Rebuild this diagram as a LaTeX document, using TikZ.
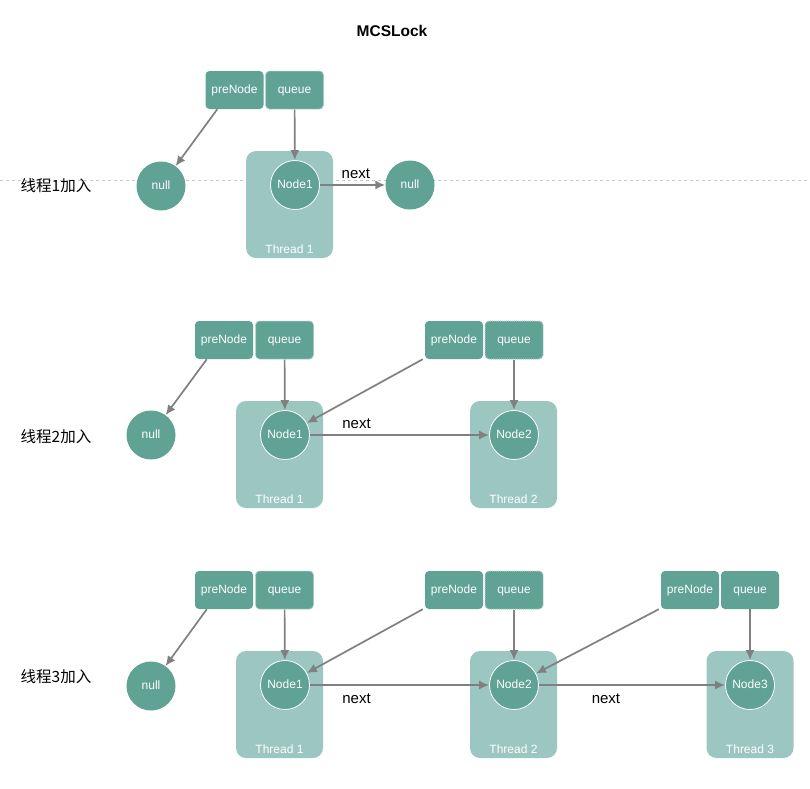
\documentclass[tikz,border=0pt]{standalone}
\usepackage{fontspec}
\setmainfont{Liberation Sans}
\newfontfamily\cjk{Noto Sans CJK SC}
\usetikzlibrary{arrows.meta,positioning,calc}
\definecolor{nodecol}{RGB}{96,162,148}
\definecolor{threadcol}{RGB}{155,199,192}
\definecolor{flowcol}{RGB}{128,128,128}
\definecolor{sepcol}{RGB}{200,200,200}
\tikzset{
  x=1pt, y=-1pt,
  every node/.style={font=\fontsize{12}{14}\selectfont},
  refbox/.style={rounded corners=4pt, fill=nodecol, text=white,
    minimum width=58pt, minimum height=38pt, inner sep=0pt,
    text height=8.6pt, text depth=2.6pt},
  qbox/.style={refbox, draw=white!50!nodecol, densely dotted, line width=1pt},
  qsolid/.style={refbox},
  lnode/.style={circle, fill=nodecol, text=white, minimum size=49pt,
    inner sep=0pt, draw=white, line width=0.8pt,
    text height=8.6pt, text depth=2.6pt},
  nullnode/.style={circle, fill=nodecol, text=white, minimum size=49pt,
    inner sep=0pt, text height=8.6pt, text depth=2.6pt},
  thread/.style={rounded corners=10pt, fill=threadcol,
    minimum width=87pt, minimum height=107pt, inner sep=0pt},
  thlbl/.style={text=white, inner sep=1pt},
  steplbl/.style={font=\fontsize{15.5}{17}\selectfont\cjk, inner sep=0pt},
  nextlbl/.style={font=\fontsize{15}{17}\selectfont, text=black, inner sep=1pt},
  flow/.style={-{Latex[length=10pt,width=9pt]}, flowcol, line width=1.7pt},
}
\begin{document}
\begin{tikzpicture}
\useasboundingbox (0,0) rectangle (810,788);

\node[font=\fontsize{15.5}{17}\selectfont\bfseries] (title) at (392,31) {MCSLock};

% ---------- row 1 ----------
\coordinate (sepL) at (0,180);
\coordinate (sepR) at (810,180);
\draw[sepcol, line width=0.7pt, dash pattern=on 3pt off 3pt] (sepL) -- (sepR);
\node[steplbl] (s1) at (56,186) {线程1加入};
\node[thread] (ta1) at (289.5,204.5) {};
\node[thlbl] (ta1l) at (289.5,249) {Thread 1};
\node[nullnode] (na1) at (161,186) {null};
\node[lnode] (a1) at (295,185) {Node1};
\node[nullnode] (nb1) at (410,185) {null};
\node[refbox] (pa1) at (234.5,90) {preNode};
\node[qbox] (qa1) at (294.5,90) {queue};
\draw[flow] ([xshift=12pt]pa1.south west) -- (na1);
\draw[flow] (qa1) -- (a1);
\draw[flow] (a1) -- node[nextlbl, above=5pt, pos=0.55] {next} (nb1);

% ---------- row 2 ----------
\node[steplbl] (s2) at (56,437) {线程2加入};
\node[thread] (ta2) at (279.5,454.5) {};
\node[thlbl] (ta2l) at (279.5,499) {Thread 1};
\node[thread] (tb2) at (513.5,454.5) {};
\node[thlbl] (tb2l) at (513.5,499) {Thread 2};
\node[nullnode] (na2) at (151,435) {null};
\node[lnode] (a2) at (285,435) {Node1};
\node[lnode] (b2) at (514,435) {Node2};
\node[refbox] (pa2) at (224,340) {preNode};
\node[qbox] (qa2) at (284.5,340) {queue};
\node[refbox] (pb2) at (454,340) {preNode};
\node[qbox] (qb2) at (514,340) {queue};
\draw[flow] ([xshift=12pt]pa2.south west) -- (na2);
\draw[flow] (qa2) -- (a2);
\draw[flow] ([xshift=-2pt]pb2.south west) -- (a2);
\draw[flow] (qb2) -- (b2);
\draw[flow] (a2) -- node[nextlbl, above=5pt, pos=0.26] {next} (b2);

% ---------- row 3 ----------
\node[steplbl] (s3) at (56,677) {线程3加入};
\node[thread] (ta3) at (279.5,704.5) {};
\node[thlbl] (ta3l) at (279.5,749) {Thread 1};
\node[thread] (tb3) at (513.5,704.5) {};
\node[thlbl] (tb3l) at (513.5,749) {Thread 2};
\node[thread] (tc3) at (750,704.5) {};
\node[thlbl] (tc3l) at (750,749) {Thread 3};
\node[nullnode] (na3) at (151,686) {null};
\node[lnode] (a3) at (285,685) {Node1};
\node[lnode] (b3) at (514,685) {Node2};
\node[lnode] (c3) at (750,685) {Node3};
\node[refbox] (pa3) at (224,590) {preNode};
\node[qbox] (qa3) at (284.5,590) {queue};
\node[refbox] (pb3) at (454,590) {preNode};
\node[qbox] (qb3) at (514,590) {queue};
\node[refbox] (pc3) at (690,590) {preNode};
\node[qsolid] (qc3) at (750,590) {queue};
\draw[flow] ([xshift=12pt]pa3.south west) -- (na3);
\draw[flow] (qa3) -- (a3);
\draw[flow] ([xshift=-2pt]pb3.south west) -- (a3);
\draw[flow] (qb3) -- (b3);
\draw[flow] ([xshift=-2pt]pc3.south west) -- (b3);
\draw[flow] (qc3) -- (c3);
\draw[flow] (a3) -- node[nextlbl, below=7pt, pos=0.26] {next} (b3);
\draw[flow] (b3) -- node[nextlbl, below=7pt, pos=0.36] {next} (c3);

\end{tikzpicture}
\end{document}
